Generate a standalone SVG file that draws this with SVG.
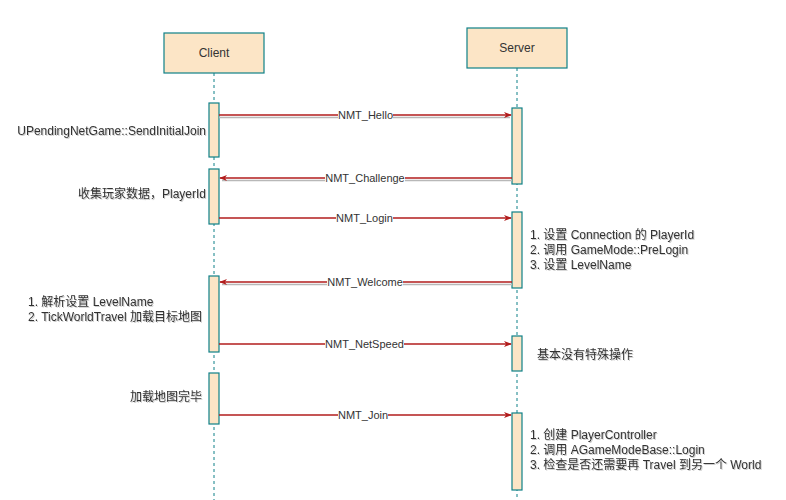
<svg xmlns="http://www.w3.org/2000/svg" width="786" height="500" viewBox="0 0 786 500">
<defs>
<style>
.box{fill:#fce5c6;stroke:#0e8088;stroke-width:1.2}
.act{fill:#fce5c6;stroke:#0e8088;stroke-width:1.2}
.life{stroke:#0e8088;stroke-width:1;stroke-dasharray:3 3;fill:none}
.msg{stroke:#b21c1c;stroke-width:1.3;fill:none}
.shd{stroke:#b8b8b8;stroke-width:1.3;fill:none}
.lbl{fill:#ffffff}
text{font-family:"Liberation Sans","Noto Sans CJK SC",sans-serif;font-size:11px;fill:#333333}
.t12{font-size:12px}
.ts{filter:url(#tsh)}
</style>
<filter id="tsh" x="-10%" y="-30%" width="120%" height="160%">
<feDropShadow dx="1" dy="1" stdDeviation="0.6" flood-color="#000" flood-opacity="0.2"/>
</filter>
<marker id="ah" viewBox="0 0 10 10" refX="9" refY="5" markerWidth="8" markerHeight="8" orient="auto-start-reverse" markerUnits="userSpaceOnUse">
<path d="M0,1 L10,5 L0,9 L3,5 Z" fill="#b21c1c"/>
</marker>
</defs>
<rect width="786" height="500" fill="#ffffff"/>

<g id="lifelines">
<line class="life" x1="214" y1="73" x2="214" y2="500"/>
<line class="life" x1="517" y1="68" x2="517" y2="500"/>
</g>

<g id="client">
<rect class="box" x="164" y="33" width="100" height="40"/>
<text x="214" y="57" text-anchor="middle" class="t12">Client</text>
</g>
<g id="server">
<rect class="box" x="467" y="28" width="100" height="40"/>
<text x="517" y="52" text-anchor="middle" class="t12">Server</text>
</g>

<g id="client-activations">
<rect class="act" x="209" y="103" width="10" height="54"/>
<rect class="act" x="209" y="169" width="10" height="55"/>
<rect class="act" x="209" y="276" width="10" height="76"/>
<rect class="act" x="209" y="373" width="10" height="51"/>
</g>
<g id="server-activations">
<rect class="act" x="512" y="108" width="10" height="76"/>
<rect class="act" x="512" y="212" width="10" height="76"/>
<rect class="act" x="512" y="336" width="10" height="35"/>
<rect class="act" x="512" y="413" width="10" height="77"/>
</g>

<g id="connectors">
<line class="shd" x1="219" y1="117.5" x2="510" y2="117.5"/>
<line class="msg" x1="219" y1="115" x2="511" y2="115" marker-end="url(#ah)"/>
<line class="shd" x1="512" y1="180.5" x2="222" y2="180.5"/>
<line class="msg" x1="512" y1="178" x2="220" y2="178" marker-end="url(#ah)"/>
<line class="msg" x1="219" y1="218" x2="511" y2="218" marker-end="url(#ah)"/>
<line class="shd" x1="512" y1="284.5" x2="222" y2="284.5"/>
<line class="msg" x1="512" y1="282" x2="220" y2="282" marker-end="url(#ah)"/>
<line class="msg" x1="219" y1="344" x2="511" y2="344" marker-end="url(#ah)"/>
<line class="msg" x1="219" y1="415" x2="511" y2="415" marker-end="url(#ah)"/>
</g>

<g id="msg-labels">
<rect class="lbl" x="338" y="108" width="55" height="13"/>
<text x="365.5" y="119" text-anchor="middle">NMT_Hello</text>
<rect class="lbl" x="325" y="171" width="80" height="13"/>
<text x="365" y="182" text-anchor="middle">NMT_Challenge</text>
<rect class="lbl" x="336" y="211" width="57" height="13"/>
<text x="364.5" y="222" text-anchor="middle">NMT_Login</text>
<rect class="lbl" x="327" y="275" width="76" height="13"/>
<text x="365" y="286" text-anchor="middle">NMT_Welcome</text>
<rect class="lbl" x="325" y="337" width="79" height="13"/>
<text x="364.5" y="348" text-anchor="middle">NMT_NetSpeed</text>
<rect class="lbl" x="338" y="408" width="50" height="13"/>
<text x="363" y="419" text-anchor="middle">NMT_Join</text>
</g>

<g id="notes">
<text class="t12 ts" x="206" y="135" text-anchor="end">UPendingNetGame::SendInitialJoin</text>
<text class="t12 ts" x="206" y="198" text-anchor="end">收集玩家数据，PlayerId</text>
<text class="t12 ts" x="530" y="239">1. 设置 Connection 的 PlayerId</text>
<text class="t12 ts" x="530" y="254">2. 调用 GameMode::PreLogin</text>
<text class="t12 ts" x="530" y="269">3. 设置 LevelName</text>
<text class="t12 ts" x="28" y="306">1. 解析设置 LevelName</text>
<text class="t12 ts" x="28" y="321">2. TickWorldTravel 加载目标地图</text>
<text class="t12 ts" x="537" y="359">基本没有特殊操作</text>
<text class="t12 ts" x="202" y="401" text-anchor="end">加载地图完毕</text>
<text class="t12 ts" x="530" y="439">1. 创建 PlayerController</text>
<text class="t12 ts" x="530" y="454">2. 调用 AGameModeBase::Login</text>
<text class="t12 ts" x="530" y="469">3. 检查是否还需要再 Travel 到另一个 World</text>
</g>
</svg>
